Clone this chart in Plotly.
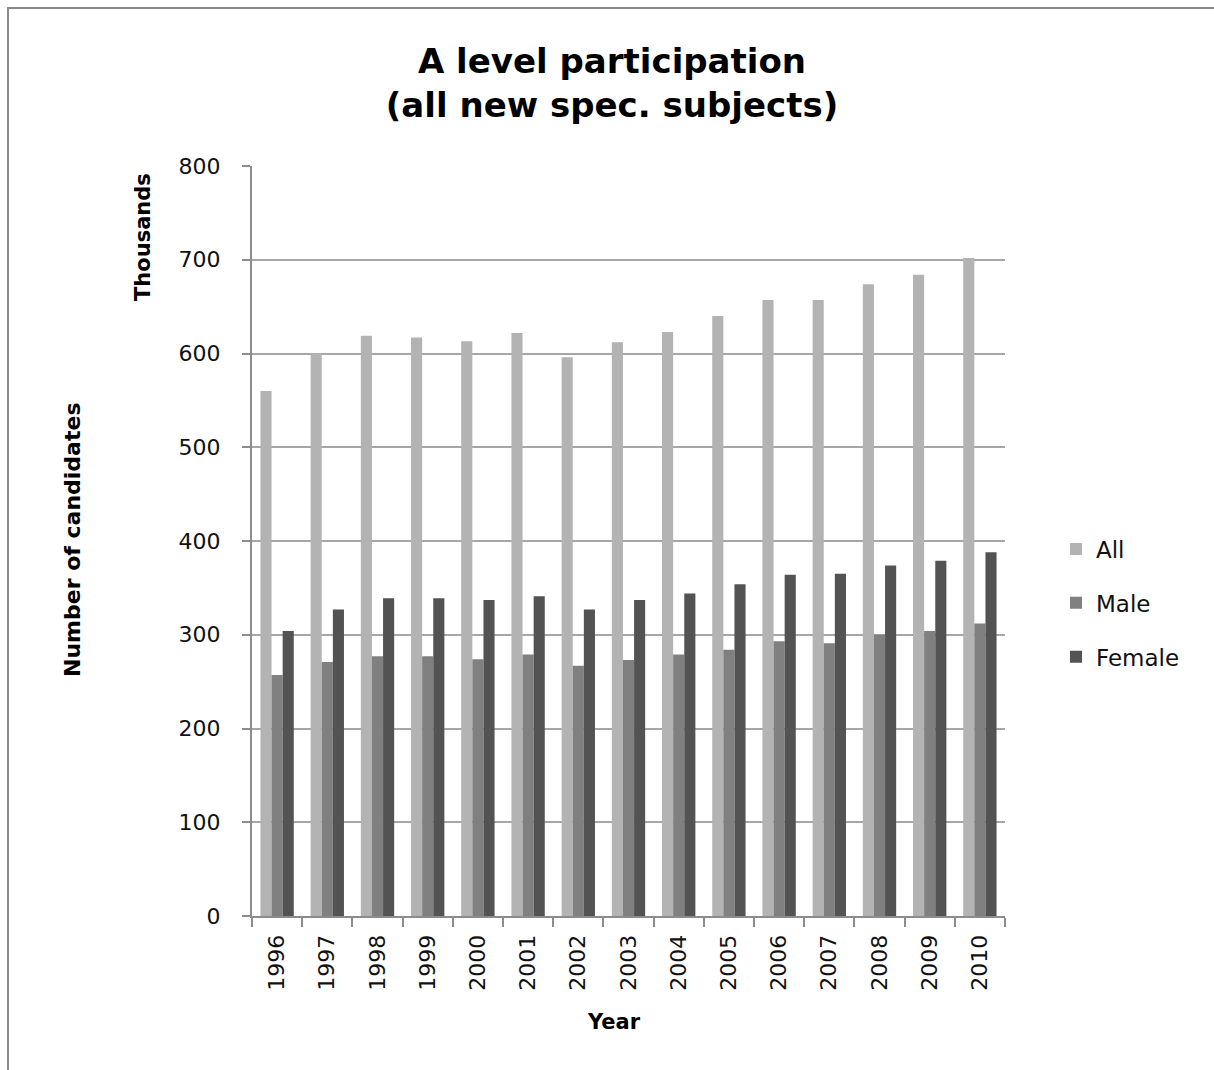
import plotly.graph_objects as go

# A level candidates by year, in thousands
years = ["1996", "1997", "1998", "1999", "2000", "2001", "2002", "2003",
         "2004", "2005", "2006", "2007", "2008", "2009", "2010"]
all_candidates = [560, 600, 619, 617, 613, 622, 596, 612,
                  623, 640, 657, 657, 674, 684, 702]
male_candidates = [257, 271, 277, 277, 274, 279, 267, 273,
                   279, 284, 293, 291, 300, 304, 312]
female_candidates = [304, 327, 339, 339, 337, 341, 327, 337,
                     344, 354, 364, 365, 374, 379, 388]

series = [
    ("All", all_candidates, "#b3b3b3"),
    ("Male", male_candidates, "#808080"),
    ("Female", female_candidates, "#535353"),
]

W, H = 1214, 1070
L, R, T, B = 252, 209, 166, 154
pw, ph = W - L - R, H - T - B


def px_x(x):
    return (x - L) / pw


def px_y(y):
    return (H - B - y) / ph


fig = go.Figure()
for i, (name, vals, color) in enumerate(series):
    fig.add_trace(go.Bar(
        x=years, y=vals, name=name,
        marker=dict(color=color, line=dict(width=0)),
        legendgroup=f"g{i}",
    ))

axis_font = dict(family="DejaVu Sans", size=22, color="#111111")
bold = dict(family="DejaVu Sans", size=21, color="#000000", weight="bold")

fig.update_layout(
    width=W, height=H,
    margin=dict(l=L, r=R, t=T, b=B),
    paper_bgcolor="white", plot_bgcolor="white",
    barmode="group", bargap=0.336, bargroupgap=0,
    title=dict(
        text="A level participation<br>(all new spec. subjects)",
        x=px_x(612), xref="paper", xanchor="center",
        y=1 - 73 / H, yref="container", yanchor="middle",
        font=dict(family="DejaVu Sans", size=34, color="#000000", weight="bold"),
    ),
    showlegend=True,
    legend=dict(
        x=px_x(1056), xanchor="left", y=px_y(603), yanchor="middle",
        font=dict(family="DejaVu Sans", size=23, color="#111111"),
        tracegroupgap=21, itemwidth=30, bgcolor="rgba(0,0,0,0)",
    ),
    xaxis=dict(
        type="category", tickangle=-90, tickfont=axis_font,
        showline=True, linecolor="#8c8c8c", linewidth=2,
        ticks="outside", tickson="boundaries", ticklen=9,
        tickcolor="#8c8c8c", tickwidth=2, showgrid=False,
        ticklabelstandoff=8,
    ),
    yaxis=dict(
        range=[0, 800], dtick=100, tickfont=axis_font,
        showline=True, linecolor="#8c8c8c", linewidth=2,
        ticks="outside", ticklen=8, tickcolor="#8c8c8c", tickwidth=2,
        showgrid=True, gridcolor="#a6a6a6", gridwidth=2,
        zeroline=False, ticklabelstandoff=17,
    ),
    shapes=[dict(
        type="rect", xref="paper", yref="paper",
        x0=px_x(8), y0=px_y(1200), x1=px_x(1400), y1=px_y(8),
        line=dict(color="#8a8a8a", width=2), layer="below",
    )],
    annotations=[
        dict(text="Number of candidates", textangle=-90,
             x=px_x(72), y=px_y(540), xref="paper", yref="paper",
             xanchor="center", yanchor="middle",
             showarrow=False, font=dict(bold, size=22)),
        dict(text="Thousands", textangle=-90,
             x=px_x(143), y=px_y(237), xref="paper", yref="paper",
             xanchor="center", yanchor="middle",
             showarrow=False, font=bold),
        dict(text="Year",
             x=px_x(614), y=px_y(1022), xref="paper", yref="paper",
             xanchor="center", yanchor="middle",
             showarrow=False, font=bold),
    ],
)

fig.write_html("out.html")
